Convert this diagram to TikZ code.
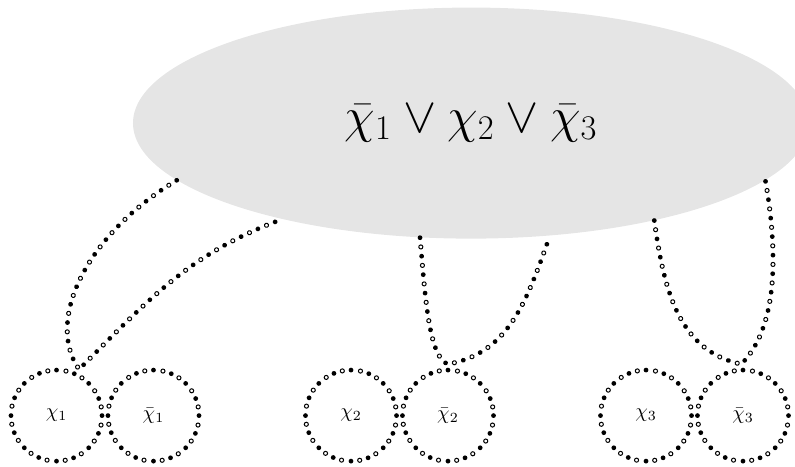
\documentclass[tikz,border=0pt]{standalone}
\usepackage{amsmath}
\usepackage{tikz}
\usetikzlibrary{positioning,shapes.geometric,decorations.markings}
\definecolor{clausefill}{HTML}{E5E5E5}

\begin{document}
\begin{tikzpicture}[
    clause/.style={ellipse, fill=clausefill, minimum width=11.88cm, minimum height=4.06cm, inner sep=0pt, font=\fontsize{24.2}{29}\selectfont},
    literal/.style={circle, minimum size=1.6cm, inner sep=0pt, outer sep=0pt},
    hollow/.style={draw=black, fill=white, line width=0.5pt},
    link/.style={decorate, decoration={markings,
        mark=between positions 0 and 1 step 0.163cm with {%
            \ifodd\pgfkeysvalueof{/pgf/decoration/mark info/sequence number}\relax
                \fill (0,0) circle (0.042);
            \else
                \draw[hollow] (0,0) circle (0.036);
            \fi}}}
]
\useasboundingbox (0,0) rectangle (13.97,8.19);

\node[clause] (clause) at (8.277,6.027) {$\bar{\chi}_1 \vee \chi_2 \vee \bar{\chi}_3$};

\node[literal] (x1) at (0.993,0.887) {$\chi_1$};
\node[literal, right=0.104cm of x1] (xb1) {$\bar{\chi}_1$};
\node[literal] (x2) at (6.168,0.887) {$\chi_2$};
\node[literal, right=0.104cm of x2] (xb2) {$\bar{\chi}_2$};
\node[literal] (x3) at (11.352,0.887) {$\chi_3$};
\node[literal, right=0.104cm of x3] (xb3) {$\bar{\chi}_3$};

\foreach \lit in {x1,xb1,x2,xb2,x3,xb3} {
    \foreach \a in {0,22.5,...,337.5}
        \fill (\lit.\a) circle (0.042);
    \foreach \a in {11.25,33.75,...,348.75}
        \draw[hollow] (\lit.\a) circle (0.036);
}

\coordinate (t1) at ([shift={(64:0.905)}]x1.center);
\coordinate (t2) at ([shift={(90:0.905)}]xb2.center);
\coordinate (t3) at ([shift={(92:0.905)}]xb3.center);

\path[link] (clause.191) to[out=211, in=125, out looseness=1.3, in looseness=0.7] (t1)
    to[out=45, in=200] (clause.207.4);
\path[link] (clause.246.7) to[out=275, in=160, out looseness=1.2, in looseness=0.4] (t2)
    to[out=10, in=250] (clause.305.1);
\path[link] (clause.332.2) to[out=278, in=168] (t3)
    to[out=45, in=280, looseness=0.8] (clause.349.4);
\end{tikzpicture}
\end{document}
